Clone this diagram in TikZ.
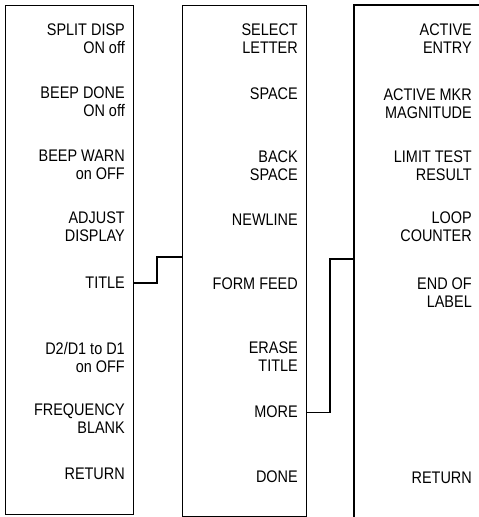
\documentclass[tikz,border=0pt]{standalone}
\usepackage{fontspec}
\setmainfont{Liberation Sans}[FakeStretch=0.86]
\begin{document}
\begin{tikzpicture}[x=1pt,y=-1pt,
  panel/.style={draw, line width=1.1pt, rectangle, inner sep=0, anchor=north west},
  keylbl/.style={anchor=north east, inner sep=0, align=right,
    font=\fontsize{16.8}{18}\selectfont},
  wire/.style={line width=1.1pt}]
\useasboundingbox (0,0) rectangle (479,517);
% panels
\node[panel, minimum width=128pt, minimum height=509pt] (L) at (5,5) {};
\node[panel, minimum width=124pt, minimum height=511pt] (M) at (182,5) {};
\coordinate (R) at (354,5);
\draw[line width=1.1pt] (479,5) -- (R) -- (R |- 0,517);
% left column
\node[keylbl] (l1) at (125,24) {SPLIT DISP\\ON off};
\node[keylbl] (l2) at (125,87) {BEEP DONE\\ON off};
\node[keylbl] (l3) at (125,150) {BEEP WARN\\on OFF};
\node[keylbl] (l4) at (125,212) {ADJUST\\DISPLAY};
\node[keylbl] (title) at (125,277) {TITLE};
\node[keylbl] (l6) at (125,342) {D2/D1 to D1\\on OFF};
\node[keylbl] (l7) at (125,404) {FREQUENCY\\BLANK};
\node[keylbl] (l8) at (125,468) {RETURN};
% middle column
\node[keylbl] (m1) at (298,24) {SELECT\\LETTER};
\node[keylbl] (m2) at (298,88) {SPACE};
\node[keylbl] (m3) at (298,151) {BACK\\SPACE};
\node[keylbl] (m4) at (298,214) {NEWLINE};
\node[keylbl] (m5) at (298,278) {FORM FEED};
\node[keylbl] (m6) at (298,342) {ERASE\\TITLE};
\node[keylbl] (more) at (298,406) {MORE};
\node[keylbl] (m8) at (298,471) {DONE};
% right column
\node[keylbl] (r1) at (472,24) {ACTIVE\\ENTRY};
\node[keylbl] (r2) at (472,89) {ACTIVE MKR\\MAGNITUDE};
\node[keylbl] (r3) at (472,151) {LIMIT TEST\\RESULT};
\node[keylbl] (r4) at (472,212) {LOOP\\COUNTER};
\node[keylbl] (r5) at (472,278) {END OF\\LABEL};
\node[keylbl] (r8) at (472,472) {RETURN};
% connectors
\draw[wire] (L.east |- title.east) -| (157,257) -- (M.west |- 0,257);
\draw[wire] (M.east |- more.east) -| (330,259) -- (R |- 0,259);
\end{tikzpicture}
\end{document}
